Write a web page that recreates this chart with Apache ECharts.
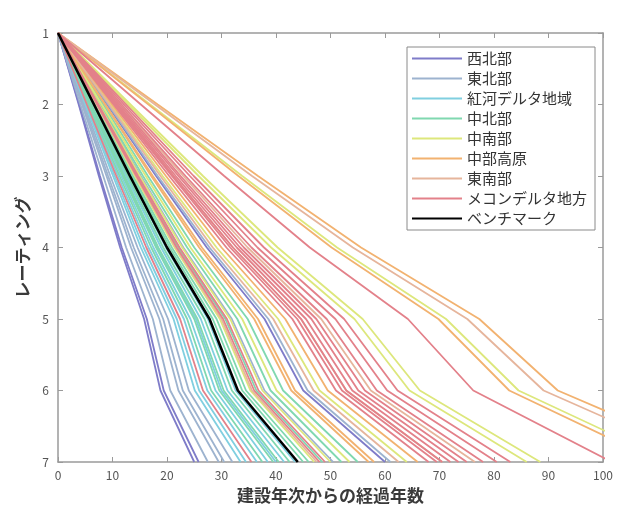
<!DOCTYPE html>
<html><head><meta charset="utf-8">
<script src="https://cdn.jsdelivr.net/npm/echarts@6/dist/echarts.min.js"></script>
<style>html,body{margin:0;padding:0;background:#fff}#c{width:625px;height:515px}</style>
</head><body><div id="c"></div>
<script>
// Rating levels (y) reached at each listed year (x)
const ratings = [1, 2, 3, 4, 5, 6, 7];
const xTicks = [0, 10, 20, 30, 40, 50, 60, 70, 80, 90, 100];
const regionNames = ['西北部', '東北部', '紅河デルタ地域', '中北部', '中南部', '中部高原', '東南部', 'メコンデルタ地方', 'ベンチマーク'];
const regionColors = ['#7f7cc9', '#9db3cf', '#80cfe0', '#80d8b0', '#dde77c', '#f2b270', '#e6b59c', '#e3818a', '#000000'];

// years at which each province line reaches rating 1..7
const northwest = [
  [0, 3.8, 7.5, 11.4, 15.8, 18.8, 25.0],
  [0, 3.9, 7.7, 11.7, 16.3, 19.4, 25.8],
  [0, 9.0, 18.0, 27.3, 37.9, 45.0, 60.0]
];
const northeast = [
  [0, 4.1, 8.3, 12.5, 17.4, 20.6, 27.5],
  [0, 4.4, 8.9, 13.4, 18.6, 22.1, 29.5],
  [0, 4.6, 9.2, 13.9, 19.3, 22.9, 30.5],
  [0, 4.8, 9.6, 14.6, 20.2, 24.0, 32.0],
  [0, 7.6, 15.2, 23.0, 31.9, 37.9, 50.5],
  [0, 9.2, 18.3, 27.8, 38.6, 45.8, 61.0]
];
const redRiverDelta = [
  [0, 5.0, 10.1, 15.2, 21.2, 25.1, 33.5],
  [0, 5.2, 10.4, 15.7, 21.8, 25.9, 34.5],
  [0, 5.5, 11.0, 16.6, 23.1, 27.4, 36.5],
  [0, 5.8, 11.6, 17.5, 24.3, 28.9, 38.5],
  [0, 6.0, 12.0, 18.2, 25.3, 30.0, 40.0],
  [0, 6.2, 12.5, 18.9, 26.2, 31.1, 41.5],
  [0, 6.5, 13.1, 19.8, 27.5, 32.6, 43.5]
];
const northCentral = [
  [0, 5.6, 11.3, 17.1, 23.7, 28.1, 37.5],
  [0, 5.9, 11.9, 18.0, 25.0, 29.6, 39.5],
  [0, 6.1, 12.2, 18.4, 25.6, 30.4, 40.5],
  [0, 6.4, 12.8, 19.3, 26.9, 31.9, 42.5],
  [0, 6.8, 13.5, 20.5, 28.4, 33.8, 45.0],
  [0, 6.9, 13.8, 20.9, 29.1, 34.5, 46.0],
  [0, 7.3, 14.6, 22.1, 30.7, 36.4, 48.5],
  [0, 7.8, 15.6, 23.7, 32.9, 39.0, 52.0],
  [0, 8.3, 16.5, 25.0, 34.8, 41.3, 55.0]
];
const southCentral = [
  [0, 7.1, 14.1, 21.4, 29.7, 35.3, 47.0],
  [0, 7.5, 15.0, 22.8, 31.6, 37.5, 50.0],
  [0, 8.0, 16.1, 24.3, 33.8, 40.1, 53.5],
  [0, 9.6, 19.2, 29.1, 40.4, 48.0, 64.0],
  [0, 12.9, 25.8, 39.1, 54.4, 64.5, 86.0],
  [0, 13.3, 26.6, 40.3, 55.9, 66.4, 88.5],
  [0, 16.9, 33.8, 51.2, 71.2, 84.5, 112.6]
];
const centralHighlands = [
  [0, 8.6, 17.1, 25.9, 36.0, 42.8, 57.0],
  [0, 8.7, 17.4, 26.4, 36.7, 43.5, 58.0],
  [0, 9.9, 19.8, 30.0, 41.7, 49.5, 66.0],
  [0, 16.6, 33.1, 50.2, 69.8, 82.8, 110.4],
  [0, 18.3, 36.7, 55.6, 77.3, 91.7, 122.3]
];
const southeast = [
  [0, 7.1, 14.3, 21.6, 30.0, 35.6, 47.5],
  [0, 9.4, 18.8, 28.4, 39.5, 46.9, 62.5],
  [0, 10.6, 21.2, 32.1, 44.6, 52.9, 70.5],
  [0, 11.5, 23.0, 34.8, 48.3, 57.4, 76.5],
  [0, 17.8, 35.6, 54.1, 75.1, 89.1, 118.8]
];
const mekongDelta = [
  [0, 5.3, 10.7, 16.2, 22.4, 26.6, 35.5],
  [0, 7.2, 14.4, 21.8, 30.3, 36.0, 48.0],
  [0, 7.4, 14.7, 22.3, 31.0, 36.8, 49.0],
  [0, 10.2, 20.4, 30.9, 43.0, 51.0, 68.0],
  [0, 10.4, 20.9, 31.6, 43.9, 52.1, 69.5],
  [0, 10.6, 21.2, 32.1, 44.6, 52.9, 70.5],
  [0, 10.8, 21.6, 32.8, 45.5, 54.0, 72.0],
  [0, 11.0, 22.1, 33.4, 46.5, 55.1, 73.5],
  [0, 11.3, 22.5, 34.1, 47.4, 56.3, 75.0],
  [0, 11.7, 23.4, 35.5, 49.3, 58.5, 78.0],
  [0, 12.1, 24.2, 36.6, 50.9, 60.4, 80.5],
  [0, 12.5, 24.9, 37.8, 52.5, 62.3, 83.0],
  [0, 15.2, 30.5, 46.2, 64.2, 76.2, 101.6]
];
const benchmark = [
  [0, 6.6, 13.2, 20.0, 27.8, 33.0, 44.0]
];

const regionLines = [northwest, northeast, redRiverDelta, northCentral, southCentral, centralHighlands, southeast, mekongDelta, benchmark];
const FONT = '"Noto Sans CJK JP", "Noto Sans", sans-serif';

const series = [];
regionLines.forEach((lines, ri) => {
  lines.forEach((years) => {
    const isBench = ri === 8;
    series.push({
      type: 'line',
      name: regionNames[ri],
      data: years.map((yr, j) => [yr, ratings[j]]),
      symbol: 'none',
      silent: true,
      clip: true,
      z: isBench ? 10 : 2 + ri * 0.1,
      itemStyle: { color: regionColors[ri] },
      lineStyle: { color: regionColors[ri], width: isBench ? 2.6 : 1.8 }
    });
  });
});

const axisGray = '#9a9a9a';
const chart = echarts.init(document.getElementById('c'), null, { renderer: 'canvas' });
chart.setOption({
  animation: false,
  backgroundColor: '#fff',
  textStyle: { fontFamily: FONT },
  grid: { left: 58, right: 22, top: 33, bottom: 53, containLabel: false },
  legend: {
    data: regionNames,
    orient: 'vertical',
    left: 407,
    top: 47,
    padding: [4, 8, 4, 5],
    icon: 'rect',
    itemWidth: 50,
    itemHeight: 2,
    itemGap: 5,
    borderColor: '#8a8a8a',
    borderWidth: 1,
    backgroundColor: '#fff',
    textStyle: { fontSize: 15, color: '#333', fontFamily: FONT },
    selectedMode: false
  },
  xAxis: [
    {
      type: 'value', min: 0, max: 100, interval: 10, position: 'bottom',
      axisLine: { show: true, onZero: false, lineStyle: { color: axisGray, width: 1.5 } },
      axisTick: { show: true, inside: true, length: 5, lineStyle: { color: axisGray } },
      axisLabel: { color: '#555', fontSize: 12, margin: 7, formatter: (v) => xTicks.includes(v) ? String(v) : '' },
      splitLine: { show: false },
      name: '建設年次からの経過年数', nameLocation: 'middle', nameGap: 25,
      nameTextStyle: { fontSize: 17, color: '#3a3a3a', fontWeight: 'bold', fontFamily: FONT }
    },
    {
      type: 'value', min: 0, max: 100, interval: 10, position: 'top',
      axisLine: { show: true, onZero: false, lineStyle: { color: axisGray, width: 1.5 } },
      axisTick: { show: true, inside: true, length: 5, lineStyle: { color: axisGray } },
      axisLabel: { show: false }, splitLine: { show: false }
    }
  ],
  yAxis: [
    {
      type: 'value', min: 1, max: 7, interval: 1, inverse: true, position: 'left',
      axisLine: { show: true, onZero: false, lineStyle: { color: axisGray, width: 1.5 } },
      axisTick: { show: true, inside: true, length: 5, lineStyle: { color: axisGray } },
      axisLabel: { color: '#555', fontSize: 12, margin: 9 },
      splitLine: { show: false },
      name: 'レーティング', nameLocation: 'middle', nameGap: 21,
      nameTextStyle: { fontSize: 17, color: '#3a3a3a', fontWeight: 'bold', fontFamily: FONT }
    },
    {
      type: 'value', min: 1, max: 7, interval: 1, inverse: true, position: 'right',
      axisLine: { show: true, onZero: false, lineStyle: { color: axisGray, width: 1.5 } },
      axisTick: { show: true, inside: true, length: 5, lineStyle: { color: axisGray } },
      axisLabel: { show: false }, splitLine: { show: false }
    }
  ],
  series: series
});
</script>
</body></html>
